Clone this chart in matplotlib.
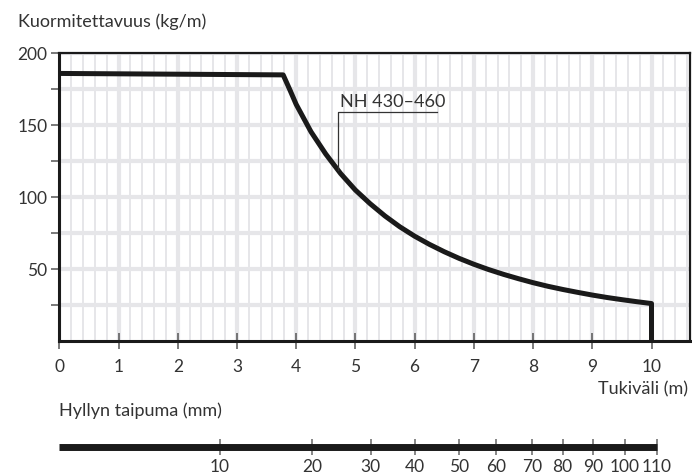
import numpy as np
import matplotlib.pyplot as plt
from matplotlib.ticker import MultipleLocator

plt.rcParams["font.family"] = ["Lato", "DejaVu Sans"]

# =========================
# DATA
# =========================

# kuormitettavuus (kg/m) tukivälin (m) mukaan
tukivali = [0.0, 3.78, 3.9, 4.0, 4.25, 4.5, 4.75, 5.0, 5.25, 5.5, 5.75, 6.0,
            6.25, 6.5, 6.75, 7.0, 7.25, 7.5, 7.75, 8.0, 8.25, 8.5, 8.75,
            9.0, 9.25, 9.5, 9.75, 10.0, 10.0]
kuorma = [186, 185, 174, 164.5, 145.5, 130, 116.5, 105, 95.5, 87, 79.5, 73,
          67.3, 62.2, 57.6, 53.5, 49.8, 46.5, 43.5, 40.7, 38.2, 36, 34,
          32.1, 30.4, 28.9, 27.5, 26.2, 0]

# hyllyn taipuma (mm) tukivälin kohdalla
taipuma_pos = [2.71, 4.27, 5.26, 6.0, 6.75, 7.37, 7.99, 8.50, 9.01, 9.55, 10.09]
taipuma_lbl = ["10", "20", "30", "40", "50", "60", "70", "80", "90", "100", "110"]

x_ticks = list(range(0, 11))
y_ticks = [25, 50, 75, 100, 125, 150, 175, 200]
y_lbl = ["", "50", "", "100", "", "150", "", "200"]

sarja = "NH 430\u2013460"
leader_x = 4.71
leader_y = 159.4
underline_end = 6.38

TXT = "#333333"
GRID = "#e6e6e9"

# =========================
# KUVA
# =========================

fig = plt.figure(figsize=(6.92, 4.74), dpi=100)

ax = fig.add_axes([0.0857, 0.28, 0.9114, 0.6076])
ax.set_xlim(0, 10.65)
ax.set_ylim(0, 200)

# ruudukko
ax.xaxis.set_minor_locator(MultipleLocator(0.2))
ax.set_xticks(x_ticks)
ax.set_yticks(y_ticks)
ax.set_yticklabels(y_lbl)
ax.grid(which="minor", axis="x", color=GRID, lw=1.4)
ax.grid(which="major", axis="x", color=GRID, lw=3.0)
ax.grid(which="major", axis="y", color=GRID, lw=3.0)
ax.set_axisbelow(True)

ax.plot(tukivali, kuorma, color="#1a1a1a", lw=3.6, solid_joinstyle="round",
        solid_capstyle="butt")

# sarjan nimi
yc = np.interp(leader_x, tukivali[:-1], kuorma[:-1])
ax.plot([leader_x, leader_x, underline_end], [yc, leader_y, leader_y],
        color=TXT, lw=0.9)
ax.text(leader_x + 0.03, leader_y + 1.5, sarja, fontsize=13, color=TXT,
        ha="left", va="bottom")

for s in ["left", "bottom"]:
    ax.spines[s].set_linewidth(2.2)
    ax.spines[s].set_color("#1a1a1a")
for s in ["top", "right"]:
    ax.spines[s].set_linewidth(1.6)
    ax.spines[s].set_color("#1a1a1a")

ax.tick_params(axis="x", which="major", direction="inout", length=11.5,
               width=1.1, color="#555555", labelsize=12.5, labelcolor=TXT, pad=7)
ax.tick_params(axis="x", which="minor", length=0)
ax.tick_params(axis="y", direction="out", length=5.5, width=1.1,
               color="#555555", labelsize=12.5, labelcolor=TXT, pad=3)

fig.text(0.026, 0.955, "Kuormitettavuus (kg/m)", fontsize=13, color=TXT,
         ha="left", va="center")
fig.text(0.994, 0.179, "Tukiväli (m)", fontsize=13, color=TXT,
         ha="right", va="center")
fig.text(0.0857, 0.133, "Hyllyn taipuma (mm)", fontsize=13, color=TXT,
         ha="left", va="center")

# =========================
# TAIPUMA-ASTEIKKO
# =========================

ax2 = fig.add_axes([0.0857, 0.0576, 0.9114, 0.04])
ax2.set_xlim(0, 10.65)
ax2.set_ylim(0, 1)
ax2.plot([0, taipuma_pos[-1]], [0, 0], color="#1a1a1a", lw=5, clip_on=False,
         solid_capstyle="butt")
ax2.set_xticks(taipuma_pos)
ax2.set_xticklabels(taipuma_lbl)
ax2.set_yticks([])
for s in ax2.spines.values():
    s.set_visible(False)
ax2.patch.set_alpha(0)
ax2.tick_params(axis="x", direction="inout", length=11.5, width=1.1,
                color="#666666", labelsize=12.5, labelcolor=TXT, pad=3)

fig.savefig("out.png", dpi=100)
